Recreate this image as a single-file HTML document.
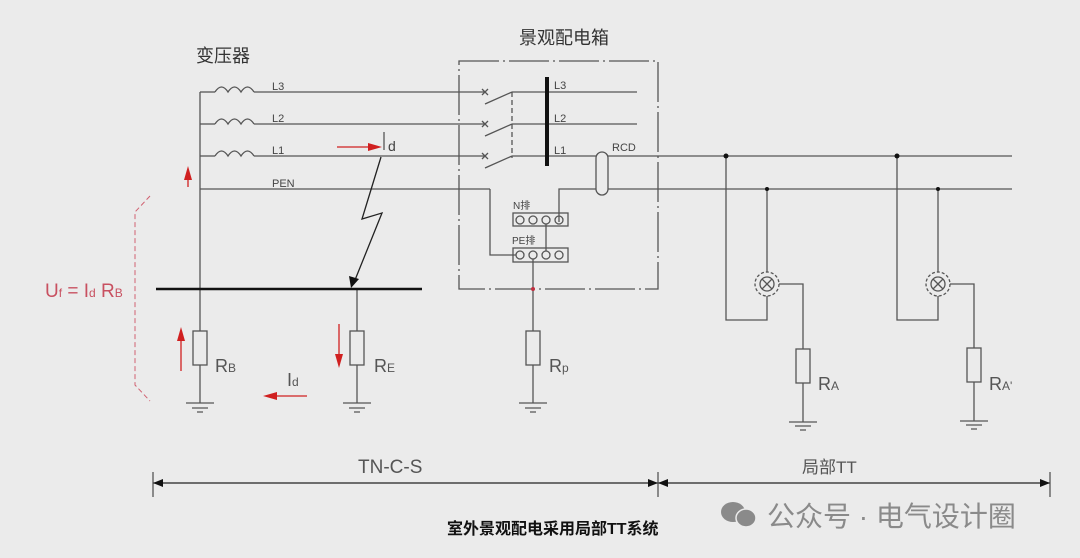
<!DOCTYPE html>
<html><head><meta charset="utf-8"><style>
html,body{margin:0;padding:0;background:#ebebeb;}
svg{display:block;}
text{font-family:"Liberation Sans","Noto Sans CJK SC",sans-serif;}
</style></head><body>
<svg width="1080" height="558" viewBox="0 0 1080 558" xmlns="http://www.w3.org/2000/svg">
<rect width="1080" height="558" fill="#ebebeb"/>
<g stroke="#555" stroke-width="1.3" fill="none">
<!-- transformer trunk -->
<line x1="200" y1="92" x2="200" y2="403"/>
<line x1="200" y1="92" x2="215" y2="92"/><line x1="200" y1="124" x2="215" y2="124"/><line x1="200" y1="156" x2="215" y2="156"/>
<path d="M215 92 q6.5 -10 13 0 q6.5 -10 13 0 q6.5 -10 13 0"/>
<path d="M215 124 q6.5 -10 13 0 q6.5 -10 13 0 q6.5 -10 13 0"/>
<path d="M215 156 q6.5 -10 13 0 q6.5 -10 13 0 q6.5 -10 13 0"/>
<line x1="254" y1="92" x2="485" y2="92"/>
<line x1="254" y1="124" x2="485" y2="124"/>
<line x1="254" y1="156" x2="485" y2="156"/>
<line x1="200" y1="189" x2="490" y2="189"/>
<!-- switches -->
<path d="M482 89 l6 6 M488 89 l-6 6"/><path d="M482 121 l6 6 M488 121 l-6 6"/><path d="M482 153 l6 6 M488 153 l-6 6"/>
<line x1="485" y1="104" x2="512" y2="92"/><line x1="485" y1="136" x2="512" y2="124"/><line x1="485" y1="168" x2="512" y2="156"/>
<line x1="512" y1="92" x2="512" y2="158" stroke-dasharray="5,3"/>
<line x1="512" y1="92" x2="637" y2="92"/><line x1="512" y1="124" x2="637" y2="124"/>
<line x1="512" y1="156" x2="596" y2="156"/><line x1="608" y1="156" x2="1012" y2="156"/>
<!-- RCD -->
<rect x="596" y="152" width="12" height="43" rx="6"/>
<!-- PEN in box -->
<path d="M490 189 V255 H516"/>
<path d="M559 222 V189 H596 M608 189 H1012"/>
<line x1="546" y1="224" x2="546" y2="251"/>
<line x1="533" y1="259" x2="533" y2="331"/>
<!-- bars -->
<rect x="513" y="213" width="55" height="13"/>
<rect x="513" y="248" width="55" height="14"/>
<circle cx="520" cy="220" r="4"/><circle cx="533" cy="220" r="4"/><circle cx="546" cy="220" r="4"/><circle cx="559" cy="220" r="4"/>
<circle cx="520" cy="255" r="4"/><circle cx="533" cy="255" r="4"/><circle cx="546" cy="255" r="4"/><circle cx="559" cy="255" r="4"/>
<!-- box -->
<rect x="459" y="61" width="199" height="228" stroke-dasharray="40,4,2,4"/>
<!-- RE -->
<line x1="357" y1="289" x2="357" y2="403"/>
<!-- resistors -->
<rect x="193" y="331" width="14" height="34" fill="#ebebeb"/>
<rect x="350" y="331" width="14" height="34" fill="#ebebeb"/>
<rect x="526" y="331" width="14" height="34" fill="#ebebeb"/>
<line x1="533" y1="365" x2="533" y2="403"/>
<!-- grounds -->
<path d="M186 403 h28 M192 408 h16 M197 412 h6"/>
<path d="M343 403 h28 M349 408 h16 M354 412 h6"/>
<path d="M519 403 h28 M525 408 h16 M530 412 h6"/>
<!-- right side -->
<path d="M726 156 V320 H767 V296"/>
<path d="M767 189 V272"/>
<path d="M779 284 H803 V349"/>
<rect x="796" y="349" width="14" height="34"/>
<path d="M803 383 V422 M789 422 h28 M795 426 h16 M800 430 h6"/>
<path d="M897 156 V320 H938 V296"/>
<path d="M938 189 V272"/>
<path d="M950 284 H974 V348"/>
<rect x="967" y="348" width="14" height="34"/>
<path d="M974 382 V421 M960 421 h28 M966 425 h16 M971 429 h6"/>
<circle cx="767" cy="284" r="12" stroke-dasharray="3,2"/><circle cx="767" cy="284" r="7"/>
<path d="M762 279 l10 10 M772 279 l-10 10"/>
<circle cx="938" cy="284" r="12" stroke-dasharray="3,2"/><circle cx="938" cy="284" r="7"/>
<path d="M933 279 l10 10 M943 279 l-10 10"/>
<!-- lightning -->
<path d="M381 157 L362 219 L382 213 L355 280" stroke="#222"/>
<line x1="384" y1="132" x2="384" y2="150"/>
<!-- dimension -->
<line x1="153" y1="483" x2="1050" y2="483" stroke="#222"/>
<line x1="153" y1="472" x2="153" y2="497"/><line x1="658" y1="472" x2="658" y2="497"/><line x1="1050" y1="472" x2="1050" y2="497"/>
</g>
<polygon points="351,288 349,276 359,279" fill="#111"/>
<g fill="#111">
<circle cx="726" cy="156" r="2.5"/><circle cx="767" cy="189" r="2"/><circle cx="897" cy="156" r="2.5"/><circle cx="938" cy="189" r="2"/>
<polygon points="153,483 163,479 163,487"/><polygon points="658,483 648,479 648,487"/><polygon points="658,483 668,479 668,487"/><polygon points="1050,483 1040,479 1040,487"/>
</g>
<line x1="547" y1="77" x2="547" y2="166" stroke="#111" stroke-width="4"/>
<line x1="156" y1="289" x2="422" y2="289" stroke="#111" stroke-width="2.5"/>
<circle cx="533" cy="289" r="2" fill="#c03040"/>
<!-- red -->
<g stroke="#d02020" stroke-width="1.3" fill="#d02020">
<line x1="337" y1="147" x2="370" y2="147"/><polygon points="382,147 368,143 368,151" stroke="none"/>
<line x1="188" y1="187" x2="188" y2="178"/><polygon points="188,166 184,180 192,180" stroke="none"/>
<line x1="181" y1="371" x2="181" y2="340"/><polygon points="181,327 177,341 185,341" stroke="none"/>
<line x1="339" y1="324" x2="339" y2="355"/><polygon points="339,368 335,354 343,354" stroke="none"/>
<line x1="307" y1="396" x2="276" y2="396"/><polygon points="263,396 277,392 277,400" stroke="none"/>
</g>
<path d="M150 196 L135 212 V385 L150 401" stroke="#d06070" stroke-width="1" fill="none" stroke-dasharray="5,3"/>
<!-- text -->
<g fill="#444" font-size="11">
<text x="272" y="90">L3</text><text x="272" y="122">L2</text><text x="272" y="154">L1</text><text x="272" y="187">PEN</text>
<text x="554" y="89">L3</text><text x="554" y="122">L2</text><text x="554" y="154">L1</text>
<text x="612" y="151">RCD</text>
<text x="513" y="209" font-size="10">N排</text><text x="512" y="244" font-size="10">PE排</text>
<text x="388" y="151" font-size="14">d</text>
</g>
<g fill="#555" font-size="18">
<text x="215" y="372">R<tspan font-size="12">B</tspan></text>
<text x="374" y="372">R<tspan font-size="12">E</tspan></text>
<text x="549" y="372">R<tspan font-size="12">p</tspan></text>
<text x="818" y="390">R<tspan font-size="12">A</tspan></text>
<text x="989" y="390">R<tspan font-size="12">A'</tspan></text>
<text x="287" y="386">I<tspan font-size="12">d</tspan></text>
</g>
<text x="45" y="297" fill="#c85060" font-size="19">U<tspan font-size="12">f</tspan> = I<tspan font-size="12">d</tspan> R<tspan font-size="12">B</tspan></text>
<text x="196" y="62" fill="#333" font-size="18">变压器</text>
<text x="519" y="44" fill="#333" font-size="18">景观配电箱</text>
<text x="358" y="473" fill="#555" font-size="19">TN-C-S</text>
<text x="802" y="473" fill="#555" font-size="17">局部TT</text>
<text x="447" y="534" fill="#111" font-size="16" font-weight="bold">室外景观配电采用局部TT系统</text>
<g fill="#8a8a8a">
<ellipse cx="733" cy="512" rx="12" ry="10"/><ellipse cx="746" cy="518" rx="10" ry="9" stroke="#ebebeb" stroke-width="1.5"/>
</g>
<text x="767" y="526" fill="#8a8a8a" font-size="28">公众号 · 电气设计圈</text>
</svg>
</body></html>
